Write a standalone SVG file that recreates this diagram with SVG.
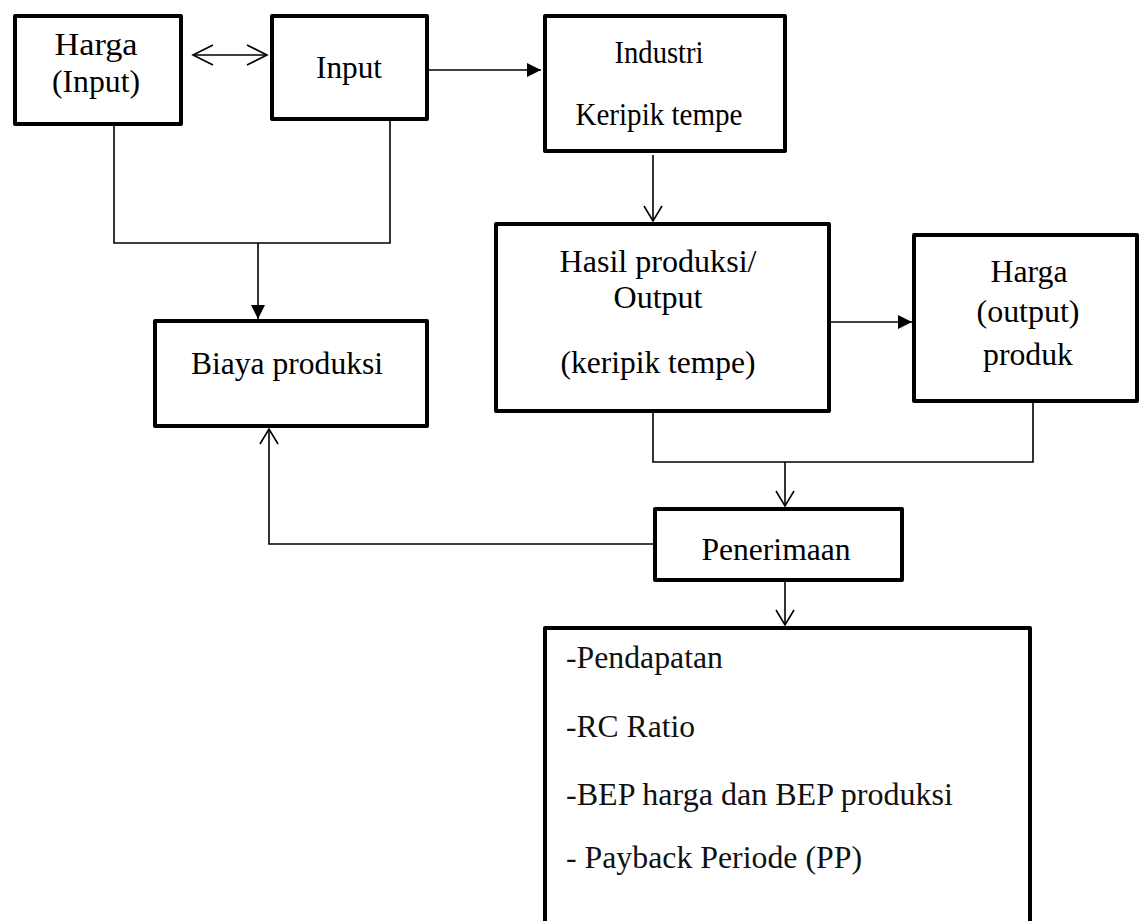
<svg xmlns="http://www.w3.org/2000/svg" width="1141" height="921" viewBox="0 0 1141 921" font-family="Liberation Serif, Times New Roman, serif">
<style>
.box{fill:#fff;stroke:#000;stroke-width:4;stroke-linejoin:round}
.t{font-size:31px;fill:#000;text-anchor:middle}
.l{font-size:31px;fill:#111;text-anchor:start}
.c{fill:none;stroke:#000;stroke-width:1.6}
</style>
<defs>
<marker id="open" markerUnits="userSpaceOnUse" markerWidth="20" markerHeight="22" refX="16" refY="10" orient="auto-start-reverse">
<path d="M1,1 L16,10 L1,19" fill="none" stroke="#000" stroke-width="1.6"/>
</marker>
<marker id="openL" markerUnits="userSpaceOnUse" markerWidth="24" markerHeight="24" refX="21" refY="11" orient="auto-start-reverse">
<path d="M1,1 L21,11 L1,21" fill="none" stroke="#000" stroke-width="1.6"/>
</marker>
<marker id="fill" markerUnits="userSpaceOnUse" markerWidth="16" markerHeight="16" refX="14" refY="8" orient="auto">
<path d="M0,1 L14,8 L0,15 Z" fill="#000"/>
</marker>
</defs>
<g id="connectors">
<line class="c" x1="193" y1="55" x2="267" y2="55" marker-start="url(#openL)" marker-end="url(#openL)"/>
<line class="c" x1="429" y1="70" x2="541" y2="70" marker-end="url(#fill)"/>
<line class="c" x1="653" y1="155" x2="653" y2="221" marker-end="url(#open)"/>
<polyline class="c" points="114,126 114,243 390,243 390,121"/>
<line class="c" x1="258" y1="243" x2="258" y2="319" marker-end="url(#fill)"/>
<line class="c" x1="831" y1="322" x2="912" y2="322" marker-end="url(#fill)"/>
<polyline class="c" points="653,413 653,462 1033,462 1033,403"/>
<line class="c" x1="785" y1="462" x2="785" y2="506" marker-end="url(#open)"/>
<polyline class="c" points="653,544 269,544 269,429" marker-end="url(#open)"/>
<line class="c" x1="785" y1="582" x2="785" y2="625" marker-end="url(#open)"/>
</g>
<g id="harga-input">
<rect class="box" x="15" y="16" width="166" height="108"/>
<text class="t" x="96" y="55" textLength="83" lengthAdjust="spacingAndGlyphs">Harga</text>
<text class="t" x="96" y="92" textLength="88" lengthAdjust="spacingAndGlyphs">(Input)</text>
</g>
<g id="input">
<rect class="box" x="272" y="16" width="155" height="103"/>
<text class="t" x="349" y="78" textLength="66" lengthAdjust="spacingAndGlyphs">Input</text>
</g>
<g id="industri">
<rect class="box" x="545" y="16" width="240" height="135"/>
<text class="t" x="659" y="63" textLength="89" lengthAdjust="spacingAndGlyphs">Industri</text>
<text class="t" x="659" y="125" textLength="167" lengthAdjust="spacingAndGlyphs">Keripik tempe</text>
</g>
<g id="hasil">
<rect class="box" x="496" y="224" width="333" height="187"/>
<text class="t" x="658" y="272" textLength="197" lengthAdjust="spacingAndGlyphs">Hasil produksi/</text>
<text class="t" x="658" y="308" textLength="89" lengthAdjust="spacingAndGlyphs">Output</text>
<text class="t" x="658" y="373" textLength="195" lengthAdjust="spacingAndGlyphs">(keripik tempe)</text>
</g>
<g id="harga-output">
<rect class="box" x="914" y="235" width="223" height="166"/>
<text class="t" x="1029" y="282" textLength="77" lengthAdjust="spacingAndGlyphs">Harga</text>
<text class="t" x="1028" y="322" textLength="103" lengthAdjust="spacingAndGlyphs">(output)</text>
<text class="t" x="1028" y="365" textLength="90" lengthAdjust="spacingAndGlyphs">produk</text>
</g>
<g id="biaya">
<rect class="box" x="155" y="321" width="272" height="105"/>
<text class="t" x="287" y="374" textLength="192" lengthAdjust="spacingAndGlyphs">Biaya produksi</text>
</g>
<g id="penerimaan">
<rect class="box" x="655" y="509" width="247" height="71"/>
<text class="t" x="776" y="560" textLength="149" lengthAdjust="spacingAndGlyphs">Penerimaan</text>
</g>
<g id="analisis">
<rect class="box" x="545" y="628" width="485" height="330"/>
<text class="l" x="566" y="668" textLength="157" lengthAdjust="spacingAndGlyphs">-Pendapatan</text>
<text class="l" x="566" y="737" textLength="129" lengthAdjust="spacingAndGlyphs">-RC Ratio</text>
<text class="l" x="566" y="805" textLength="387" lengthAdjust="spacingAndGlyphs">-BEP harga dan BEP produksi</text>
<text class="l" x="566" y="868" textLength="296" lengthAdjust="spacingAndGlyphs">- Payback Periode (PP)</text>
</g>
</svg>
